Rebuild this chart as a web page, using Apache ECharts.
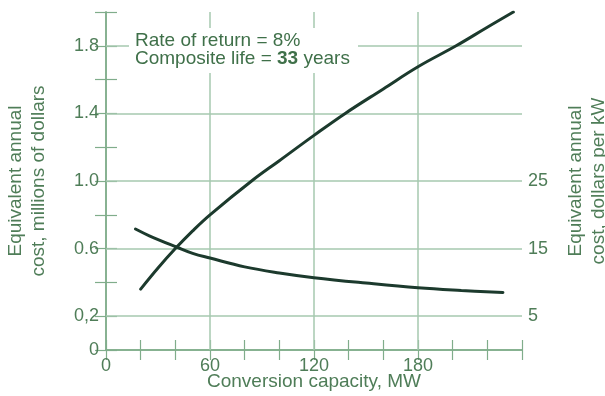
<!DOCTYPE html>
<html>
<head>
<meta charset="utf-8">
<script src="https://cdn.jsdelivr.net/npm/echarts@6/dist/echarts.min.js"></script>
<style>
  html, body { margin: 0; padding: 0; background: #fff; }
  #chart { width: 605px; height: 396px; }
</style>
</head>
<body>
<div id="chart"></div>
<script>
// Conversion capacity (MW) sampled along each curve
const totalCapacity = [20, 30, 40, 50, 60, 84, 100, 120, 138, 160, 180, 202, 220, 235];
// Equivalent annual cost, millions of dollars (left axis)
const totalCost = [0.36, 0.485, 0.60, 0.705, 0.80, 1.00, 1.12, 1.27, 1.40, 1.545, 1.676, 1.80, 1.91, 2.0];

const unitCapacity = [17, 25, 41, 50, 60, 80, 100, 120, 150, 180, 205, 229];
// Equivalent annual cost, dollars per kW (right axis)
const unitCost = [17.9, 16.9, 15.2, 14.3, 13.6, 12.3, 11.4, 10.7, 9.9, 9.2, 8.8, 8.5];

// Tick labels
const xTickLabels = [0, 60, 120, 180];
const leftTickLabels = { 0: '0', 2: '0,2', 6: '0.6', 10: '1.0', 14: '1.4', 18: '1.8' }; // keyed by value*10
const rightTickLabels = [5, 15, 25];

// Reference grid lines
const gridX = [60, 120, 180];
const gridY = [0.2, 0.6, 1.0, 1.4, 1.8];

const axisColor = '#80ad8b';
const gridColor = '#a6c9af';
const textColor = '#4f7d58';
const curveColor = '#1c3a2d';
const font = 'Liberation Sans';

const chart = echarts.init(document.getElementById('chart'));

const tickStyle = { inside: true, length: 10, lineStyle: { color: axisColor, width: 1.2 } };
const lineStyle = { show: true, lineStyle: { color: axisColor, width: 1.5 } };
const nameStyle = { color: textColor, fontFamily: font, fontSize: 19, lineHeight: 23 };

chart.setOption({
  animation: false,
  backgroundColor: '#ffffff',
  grid: { left: 106, right: 83, top: 12, bottom: 46, containLabel: false, outerBoundsMode: 'none' },
  xAxis: [
    {
      type: 'value', min: 0, max: 240, interval: 20, position: 'bottom',
      axisLine: lineStyle, axisTick: tickStyle, splitLine: { show: false },
      axisLabel: {
        color: textColor, fontFamily: font, fontSize: 18, margin: 7,
        formatter: v => (xTickLabels.includes(v) ? String(v) : '')
      },
      name: 'Conversion capacity, MW', nameLocation: 'middle', nameGap: 21, nameMoveOverlap: false,
      nameTextStyle: Object.assign({}, nameStyle, { lineHeight: 21 })
    },
    {
      type: 'value', min: 0, max: 240, interval: 20, position: 'top',
      axisLine: lineStyle, axisTick: tickStyle, splitLine: { show: false },
      axisLabel: { show: false }
    }
  ],
  yAxis: [
    {
      type: 'value', min: 0, max: 2.0, interval: 0.2, position: 'left',
      axisLine: lineStyle, axisTick: Object.assign({}, tickStyle, { length: 11 }),
      splitLine: { show: false },
      axisLabel: {
        color: textColor, fontFamily: font, fontSize: 18, margin: 7,
        formatter: v => leftTickLabels[Math.round(v * 10)] || ''
      },
      name: 'Equivalent annual\ncost, millions of dollars', nameLocation: 'middle', nameRotate: 90, nameGap: 56,
      nameMoveOverlap: false,
      nameTextStyle: nameStyle
    },
    {
      type: 'value', min: 0, max: 50, interval: 5, position: 'right',
      axisLine: lineStyle, axisTick: Object.assign({}, tickStyle, { length: 11 }),
      splitLine: { show: false },
      axisLabel: {
        color: textColor, fontFamily: font, fontSize: 18, margin: 6,
        formatter: v => (rightTickLabels.includes(v) ? String(v) : '')
      },
      name: 'Equivalent annual\ncost, dollars per kW', nameLocation: 'middle', nameRotate: 90, nameGap: 42,
      nameMoveOverlap: false,
      nameTextStyle: nameStyle
    }
  ],
  series: [
    {
      // grid lines drawn through the axes' own scales
      type: 'line', data: [], xAxisIndex: 0, yAxisIndex: 0, silent: true,
      markLine: {
        silent: true, symbol: 'none', label: { show: false },
        lineStyle: { color: gridColor, width: 1.5, type: 'solid' },
        data: gridX.map(v => ({ xAxis: v })).concat(gridY.map(v => ({ yAxis: v })))
      }
    },
    {
      name: 'Total', type: 'line', xAxisIndex: 0, yAxisIndex: 0, smooth: 0.4,
      symbol: 'none', z: 5,
      lineStyle: { color: curveColor, width: 3, cap: 'round' },
      data: totalCapacity.map((c, i) => [c, totalCost[i]])
    },
    {
      name: 'Per kW', type: 'line', xAxisIndex: 0, yAxisIndex: 1, smooth: 0.4,
      symbol: 'none', z: 5,
      lineStyle: { color: curveColor, width: 3, cap: 'round' },
      data: unitCapacity.map((c, i) => [c, unitCost[i]])
    }
  ],
  graphic: [
    {
      type: 'rect', z: 50, silent: true,
      shape: { x: 129, y: 28, width: 229, height: 45 },
      style: { fill: '#ffffff' }
    },
    {
      type: 'text', z: 51, left: 135, top: 31, silent: true,
      style: {
        text: 'Rate of return = 8%',
        font: '19px "Liberation Sans"', fill: '#3f7049'
      }
    },
    {
      type: 'text', z: 51, left: 135, top: 49, silent: true,
      style: {
        text: '{r|Composite life = }{b|33}{r| years}',
        rich: {
          r: { font: '19px "Liberation Sans"', fill: '#3f7049' },
          b: { font: 'bold 19px "Liberation Sans"', fill: '#3f7049' }
        }
      }
    }
  ]
});
</script>
</body>
</html>
